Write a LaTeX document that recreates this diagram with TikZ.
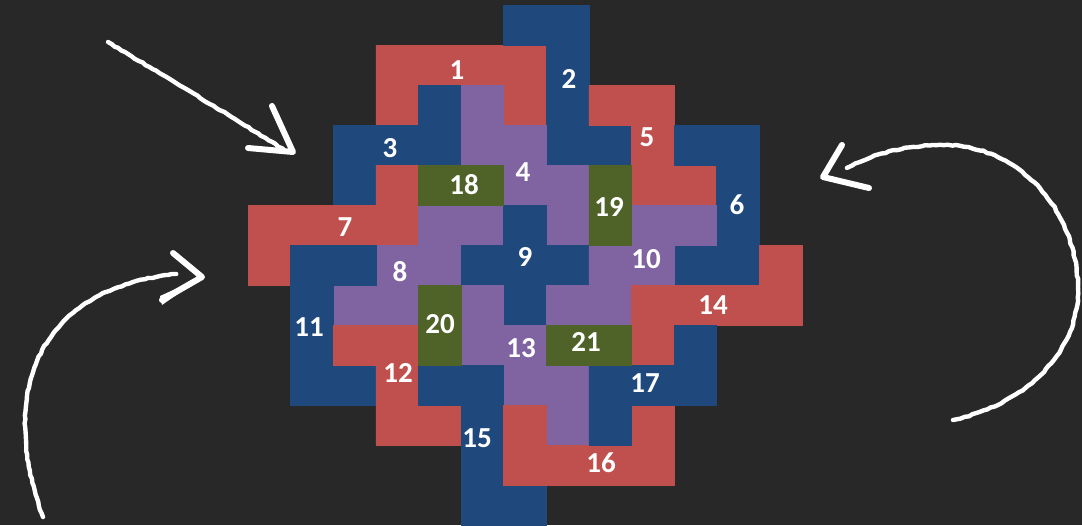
\documentclass[tikz,border=0pt]{standalone}
\usepackage{fontspec}
\setmainfont{Carlito}
\usetikzlibrary{decorations.pathmorphing}
\definecolor{board}{HTML}{282828}
\definecolor{pred}{HTML}{C0504D}
\definecolor{pblue}{HTML}{1F497D}
\definecolor{ppurple}{HTML}{8064A2}
\definecolor{pgreen}{HTML}{4F6228}
\tikzset{
  piece/.style={fill=#1, draw=#1, line width=0.6pt, line join=miter},
  lab/.style={text=white, font=\fontsize{29}{29}\selectfont\bfseries, inner sep=0pt},
  chalk/.style={white, line width=4.4pt, line cap=round, line join=round,
    decorate, decoration={random steps, segment length=4pt, amplitude=0.6pt}},
  barb/.style={white, line width=6pt, line cap=round, line join=round}
}
\newcommand{\piecefill}[2]{\path[piece=#1] \foreach \c/\r in {#2} {(\c,\r) rectangle ++(1,1)};}
\begin{document}
\begin{tikzpicture}[x=1pt,y=-1pt]
\fill[board] (0,0) rectangle (1082,525);
\useasboundingbox (0,0) rectangle (1082,525);
\begin{scope}[shift={(248,5)}, x=42.6pt, y=-40pt]
\piecefill{pred}{3/1,4/1,5/1,6/1,3/2,6/2}
\piecefill{pblue}{6/0,7/0,7/1,7/2,7/3,8/3}
\piecefill{pblue}{4/2,2/3,3/3,4/3,2/4}
\piecefill{ppurple}{5/2,5/3,6/3,6/4,7/4,7/5}
\piecefill{pred}{8/2,9/2,9/3,9/4,10/4}
\piecefill{pblue}{10/3,11/3,11/4,11/5,11/6,10/6}
\piecefill{pred}{3/4,0/5,1/5,2/5,3/5,0/6}
\piecefill{ppurple}{4/5,5/5,3/6,4/6,2/7,3/7}
\piecefill{pblue}{6/5,5/6,6/6,7/6,6/7}
\piecefill{ppurple}{9/5,10/5,8/6,9/6,7/7,8/7}
\piecefill{pblue}{1/6,2/6,1/7,1/8,1/9,2/9}
\piecefill{pred}{2/8,3/8,3/9,3/10,4/10}
\piecefill{ppurple}{5/7,5/8,6/8,6/9,7/9,7/10}
\piecefill{pred}{12/6,9/7,10/7,11/7,12/7,9/8}
\piecefill{pblue}{4/9,5/9,5/10,5/11,5/12,6/12}
\piecefill{pred}{6/10,9/10,6/11,7/11,8/11,9/11}
\piecefill{pblue}{10/8,8/9,9/9,10/9,8/10}
\piecefill{pgreen}{4/4,5/4}
\piecefill{pgreen}{8/4,8/5}
\piecefill{pgreen}{4/7,4/8}
\piecefill{pgreen}{7/8,8/8}
\end{scope}
% labels
\node[lab] (l1) at (457,70) {1};
\node[lab] (l2) at (569,79) {2};
\node[lab] (l3) at (390,148) {3};
\node[lab] (l4) at (523,172) {4};
\node[lab] (l5) at (647,137) {5};
\node[lab] (l6) at (737,205) {6};
\node[lab] (l7) at (345,227) {7};
\node[lab] (l8) at (400,272) {8};
\node[lab] (l9) at (525,257) {9};
\node[lab] (l10) at (646,259) {10};
\node[lab] (l11) at (309,327) {11};
\node[lab] (l12) at (398,373) {12};
\node[lab] (l13) at (521,348) {13};
\node[lab] (l14) at (713,305) {14};
\node[lab] (l15) at (477,438) {15};
\node[lab] (l16) at (601,463) {16};
\node[lab] (l17) at (645,383) {17};
\node[lab] (l18) at (464,185) {18};
\node[lab] (l19) at (609,207) {19};
\node[lab] (l20) at (440,324) {20};
\node[lab] (l21) at (586,342) {21};
% chalk arrow top-left
\draw[chalk] (108,42) .. controls (170,80) and (230,115) .. (284,150);
\draw[barb] (272,106) -- (293,152) -- (248,148);
% chalk arrow bottom-left
\draw[chalk] (43,517) .. controls (0,400) and (30,290) .. (176,274);
\draw[barb] (173,253) -- (202,277) -- (162,300);
\fill[white] (202,277) -- (160,296) -- (162,305) -- cycle;
% chalk arrow right
\draw[chalk] (953,420) .. controls (1040,400) and (1080,340) .. (1078,287)
  .. controls (1075,200) and (1010,140) .. (933,145)
  .. controls (900,147) and (870,155) .. (847,168);
\draw[barb] (842,145) -- (823,177) -- (869,188);
\end{tikzpicture}
\end{document}
